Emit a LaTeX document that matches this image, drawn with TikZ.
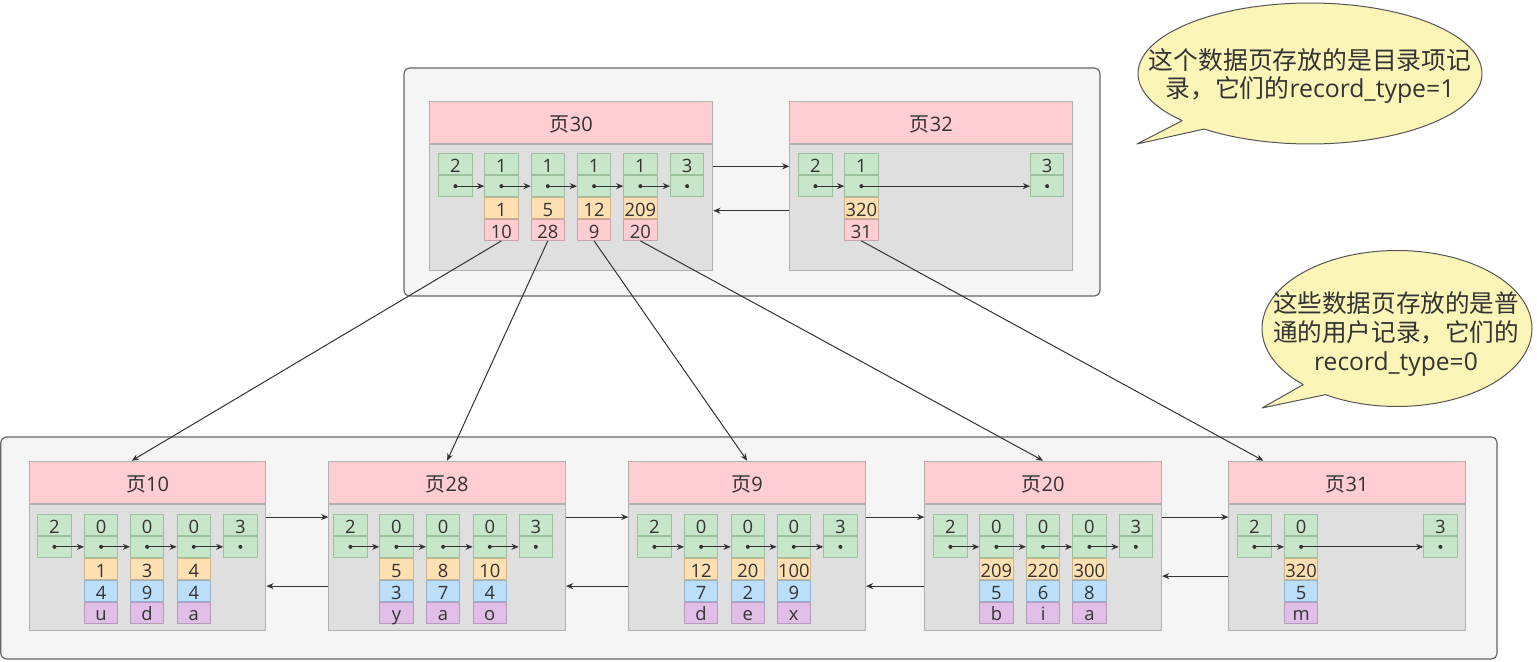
\documentclass[tikz,border=0pt]{standalone}
\usepackage{fontspec}
\setmainfont{Open Sans}
\newfontfamily\cjk{Noto Sans CJK SC}
\usetikzlibrary{arrows.meta}
\definecolor{txt}{HTML}{333333}
\definecolor{gfill}{HTML}{C8E6C9}
\definecolor{gline}{HTML}{9CBF9D}
\definecolor{ofill}{HTML}{FFE0B2}
\definecolor{oline}{HTML}{CDB48E}
\definecolor{pfill}{HTML}{FFCDD2}
\definecolor{pline}{HTML}{C9A3A7}
\definecolor{bfill}{HTML}{BBDEFB}
\definecolor{bline}{HTML}{94B2CB}
\definecolor{vfill}{HTML}{E1BEE7}
\definecolor{vline}{HTML}{B59BBA}
\definecolor{pgline}{HTML}{B0B0B0}
\definecolor{bodyfill}{HTML}{DFDFDF}
\definecolor{outerfill}{HTML}{F5F5F5}
\definecolor{outerline}{HTML}{666666}
\definecolor{callfill}{HTML}{FCF5B8}
\definecolor{callline}{HTML}{555555}

\newcommand\mkpage[5]{% name,x,y,widthpx,title
  \node[pghead, minimum width=#4*0.5pt, anchor=north west] (#1h) at (#2,#3) {#5};
  \node[pgbody, minimum width=#4*0.5pt, anchor=north] (#1b) at (#1h.south) {};}
\newcommand\srec[4]{% name,x,y,num
  \node[gc, anchor=north west] (#1a) at (#2,#3) {#4};
  \node[gc, anchor=north] (#1b) at (#1a.south) {};
  \fill[txt] (#1b.center) circle[radius=1pt];}
\newcommand\irec[6]{% name,x,y,type,key,ptr
  \node[gc, anchor=north west] (#1a) at (#2,#3) {#4};
  \node[gc, anchor=north] (#1b) at (#1a.south) {};
  \node[oc, anchor=north] (#1c) at (#1b.south) {#5};
  \node[pc, anchor=north] (#1d) at (#1c.south) {#6};
  \fill[txt] (#1b.center) circle[radius=1pt];}
\newcommand\urec[7]{% name,x,y,type,key,c2,c3
  \node[gc, anchor=north west] (#1a) at (#2,#3) {#4};
  \node[gc, anchor=north] (#1b) at (#1a.south) {};
  \node[oc, anchor=north] (#1c) at (#1b.south) {#5};
  \node[bc, anchor=north] (#1d) at (#1c.south) {#6};
  \node[vc, anchor=north] (#1e) at (#1d.south) {#7};
  \fill[txt] (#1b.center) circle[radius=1pt];}

\begin{document}
\begin{tikzpicture}[x=0.5pt,y=-0.5pt,line join=round,
  cellbase/.style={rectangle, inner sep=0pt, minimum width=16.6pt, minimum height=10.45pt,
    font=\fontsize{9.2}{10}\selectfont, text=txt, text height=8.4pt, text depth=0pt, line width=0.5pt},
  gc/.style={cellbase, fill=gfill, draw=gline},
  oc/.style={cellbase, fill=ofill, draw=oline},
  pc/.style={cellbase, fill=pfill, draw=pline},
  bc/.style={cellbase, fill=bfill, draw=bline},
  vc/.style={cellbase, fill=vfill, draw=vline},
  pghead/.style={rectangle, fill=pfill, draw=pgline, line width=0.5pt, minimum height=21pt,
    inner sep=0pt, font=\fontsize{10}{12}\selectfont, text=txt, text height=9.5pt, text depth=0pt},
  pgbody/.style={rectangle, fill=bodyfill, draw=pgline, line width=0.5pt, minimum height=63pt, inner sep=0pt},
  outerbox/.style={fill=outerfill, draw=outerline, line width=0.6pt, rounded corners=3pt},
  arr/.style={draw=txt, line width=0.5pt, -{Stealth[length=3.6pt,width=3pt]}},
  callout/.style={fill=callfill, draw=callline, line width=0.5pt},
  calltext/.style={align=center, text=txt, inner sep=0pt}]
\useasboundingbox (0,0) rectangle (1537,662);
\fill[white] (0,0) rectangle (1537,662);

% outer boxes
\draw[outerbox] (404,68) rectangle (1100,296);
\draw[outerbox] (0.8,437) rectangle (1497,659);

% callouts
\draw[callout] (1137,144) -- plot[domain=138:488, samples=150, variable=\t]
  ({1310+172*cos(\t)},{73.5+70.5*sin(\t)}) -- cycle;
\node[calltext, font=\fontsize{12.4}{14}\selectfont] (c1) at (1310,76)
  {{\cjk 这个数据页存放的是目录项记}\\{\cjk 录，它们的}record\_type=1};
\draw[callout] (1262,408) -- plot[domain=134:482, samples=150, variable=\t]
  ({1397+135*cos(\t)},{328.5+78*sin(\t)}) -- cycle;
\node[calltext, font=\fontsize{12.3}{14.5}\selectfont] (c2) at (1396,334)
  {{\cjk 这些数据页存放的是普}\\{\cjk 通的用户记录，它们的}\\record\_type=0};

% ---------- top level pages ----------
\mkpage{P30}{429.3}{100.7}{283}{{\cjk 页}30}
\mkpage{P32}{789.3}{100.7}{283}{{\cjk 页}32}

\srec{P30i}{438.3}{153.3}{2}
\irec{P30r1}{484.3}{153.3}{1}{1}{10}
\irec{P30r2}{530.7}{153.3}{1}{5}{28}
\irec{P30r3}{577}{153.3}{1}{12}{9}
\irec{P30r4}{623.3}{153.3}{1}{209}{20}
\srec{P30s}{670}{153.3}{3}
\draw[arr] (P30ib.center) -- (P30r1b.west);
\draw[arr] (P30r1b.center) -- (P30r2b.west);
\draw[arr] (P30r2b.center) -- (P30r3b.west);
\draw[arr] (P30r3b.center) -- (P30r4b.west);
\draw[arr] (P30r4b.center) -- (P30sb.west);

\srec{P32i}{798.3}{153.3}{2}
\irec{P32r1}{844.3}{153.3}{1}{320}{31}
\srec{P32s}{1030}{153.3}{3}
\draw[arr] (P32ib.center) -- (P32r1b.west);
\draw[arr] (P32r1b.center) -- (P32sb.west);

\draw[arr] ([yshift=-11.35pt]P30b.north east) -- ([yshift=-11.35pt]P32b.north west);
\draw[arr] ([yshift=-33.5pt]P32b.north west) -- ([yshift=-33.5pt]P30b.north east);

% ---------- leaf pages ----------
\mkpage{P10}{28.7}{460.7}{236.7}{{\cjk 页}10}
\mkpage{P28}{328.3}{460.7}{236.7}{{\cjk 页}28}
\mkpage{P9}{628.3}{460.7}{236.7}{{\cjk 页}9}
\mkpage{P20}{924.3}{460.7}{236.7}{{\cjk 页}20}
\mkpage{P31}{1228.3}{460.7}{236.7}{{\cjk 页}31}

\srec{P10i}{37.3}{514}{2}
\urec{P10r1}{84}{514}{0}{1}{4}{u}
\urec{P10r2}{130}{514}{0}{3}{9}{d}
\urec{P10r3}{176.7}{514}{0}{4}{4}{a}
\srec{P10s}{223.3}{514}{3}
\draw[arr] (P10ib.center) -- (P10r1b.west);
\draw[arr] (P10r1b.center) -- (P10r2b.west);
\draw[arr] (P10r2b.center) -- (P10r3b.west);
\draw[arr] (P10r3b.center) -- (P10sb.west);

\srec{P28i}{333.3}{514}{2}
\urec{P28r1}{379.3}{514}{0}{5}{3}{y}
\urec{P28r2}{426}{514}{0}{8}{7}{a}
\urec{P28r3}{472.7}{514}{0}{10}{4}{o}
\srec{P28s}{518.7}{514}{3}
\draw[arr] (P28ib.center) -- (P28r1b.west);
\draw[arr] (P28r1b.center) -- (P28r2b.west);
\draw[arr] (P28r2b.center) -- (P28r3b.west);
\draw[arr] (P28r3b.center) -- (P28sb.west);

\srec{P9i}{637.3}{514}{2}
\urec{P9r1}{684}{514}{0}{12}{7}{d}
\urec{P9r2}{730.7}{514}{0}{20}{2}{e}
\urec{P9r3}{776.7}{514}{0}{100}{9}{x}
\srec{P9s}{823.3}{514}{3}
\draw[arr] (P9ib.center) -- (P9r1b.west);
\draw[arr] (P9r1b.center) -- (P9r2b.west);
\draw[arr] (P9r2b.center) -- (P9r3b.west);
\draw[arr] (P9r3b.center) -- (P9sb.west);

\srec{P20i}{933.3}{514}{2}
\urec{P20r1}{979.3}{514}{0}{209}{5}{b}
\urec{P20r2}{1026}{514}{0}{220}{6}{i}
\urec{P20r3}{1072.3}{514}{0}{300}{8}{a}
\srec{P20s}{1118.7}{514}{3}
\draw[arr] (P20ib.center) -- (P20r1b.west);
\draw[arr] (P20r1b.center) -- (P20r2b.west);
\draw[arr] (P20r2b.center) -- (P20r3b.west);
\draw[arr] (P20r3b.center) -- (P20sb.west);

\srec{P31i}{1237.3}{514}{2}
\urec{P31r1}{1284}{514}{0}{320}{5}{m}
\srec{P31s}{1423.3}{514}{3}
\draw[arr] (P31ib.center) -- (P31r1b.west);
\draw[arr] (P31r1b.center) -- (P31sb.west);

% page links between leaves
\draw[arr] ([yshift=-6.7pt]P10b.north east) -- ([yshift=-6.7pt]P28b.north west);
\draw[arr] ([yshift=-41.2pt]P28b.north west) -- ([yshift=-41.2pt]P10b.north east);
\draw[arr] ([yshift=-6.7pt]P28b.north east) -- ([yshift=-6.7pt]P9b.north west);
\draw[arr] ([yshift=-41.2pt]P9b.north west) -- ([yshift=-41.2pt]P28b.north east);
\draw[arr] ([yshift=-6.7pt]P9b.north east) -- ([yshift=-6.7pt]P20b.north west);
\draw[arr] ([yshift=-41.2pt]P20b.north west) -- ([yshift=-41.2pt]P9b.north east);
\draw[arr] ([yshift=-6.7pt]P20b.north east) -- ([yshift=-6.7pt]P31b.north west);
\draw[arr] ([yshift=-36.2pt]P31b.north west) -- ([yshift=-36.2pt]P20b.north east);

% index pointers
\draw[arr] (P30r1d.south) -- ([xshift=51.5pt]P10h.north west);
\draw[arr] (P30r2d.south) -- (P28h.north);
\draw[arr] (P30r3d.south) -- (P9h.north);
\draw[arr] (P30r4d.south) -- (P20h.north);
\draw[arr] (P32r1d.south) -- ([xshift=17.5pt]P31h.north west);
\end{tikzpicture}
\end{document}
